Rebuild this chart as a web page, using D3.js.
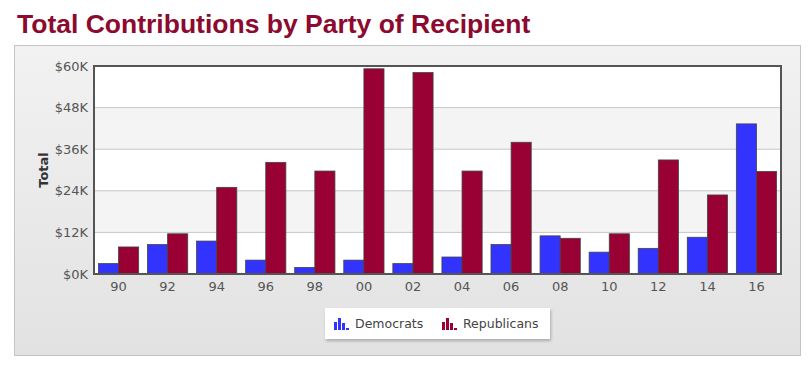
<!DOCTYPE html>
<html>
<head>
<meta charset="utf-8">
<script src="https://cdn.jsdelivr.net/npm/d3@7"></script>
<style>
  body { margin: 0; background: #fff; }
  svg { display: block; }
</style>
</head>
<body>
<div id="chart"></div>
<script>
const years = ['90', '92', '94', '96', '98', '00', '02', '04', '06', '08', '10', '12', '14', '16'];
const democrats = [3000, 8500, 9500, 4000, 1900, 4000, 3000, 4900, 8500, 11000, 6300, 7400, 10600, 43300];
const republicans = [7800, 11600, 25000, 32200, 29700, 59200, 58100, 29700, 38000, 10300, 11600, 32900, 22800, 29600];
const yTicks = [0, 12000, 24000, 36000, 48000, 60000];
const seriesNames = ['Democrats', 'Republicans'];
const colors = ['#3333ff', '#990033'];

const width = 809, height = 369;
const plot = {left: 94, right: 781, top: 66, bottom: 274};

const svg = d3.select('#chart').append('svg')
    .attr('width', width)
    .attr('height', height);

const defs = svg.append('defs');
const grad = defs.append('linearGradient')
    .attr('id', 'panelGrad')
    .attr('x1', 0).attr('y1', 0).attr('x2', 0).attr('y2', 1);
grad.append('stop').attr('offset', '0%').attr('stop-color', '#f2f2f2');
grad.append('stop').attr('offset', '100%').attr('stop-color', '#e2e2e2');

const shadow = defs.append('filter').attr('id', 'shadow')
    .attr('x', '-10%').attr('y', '-20%').attr('width', '120%').attr('height', '160%');
shadow.append('feDropShadow')
    .attr('dx', 1).attr('dy', 2).attr('stdDeviation', 1.5)
    .attr('flood-color', '#000').attr('flood-opacity', 0.25);

// title
svg.append('text')
    .attr('x', 17)
    .attr('y', 33)
    .attr('font-family', 'Liberation Sans, Arial, sans-serif')
    .attr('font-weight', 'bold')
    .attr('font-size', 26.5)
    .attr('fill', '#8c0a2f')
    .text('Total Contributions by Party of Recipient');

// panel
svg.append('rect')
    .attr('x', 14.5).attr('y', 45.5)
    .attr('width', 786).attr('height', 310)
    .attr('fill', 'url(#panelGrad)')
    .attr('stroke', '#c4c4c4');

const x = d3.scaleBand()
    .domain(years)
    .range([plot.left, plot.right])
    .paddingInner(0.18)
    .paddingOuter(0.09);
const xs = d3.scaleBand()
    .domain(seriesNames)
    .range([0, x.bandwidth()]);
const y = d3.scaleLinear()
    .domain([0, 60000])
    .range([plot.bottom, plot.top]);

// plot background with alternating bands
svg.append('g')
    .selectAll('rect')
    .data(d3.pairs(yTicks))
    .join('rect')
        .attr('x', plot.left)
        .attr('width', plot.right - plot.left)
        .attr('y', d => y(d[1]))
        .attr('height', d => y(d[0]) - y(d[1]))
        .attr('fill', (d, i) => i % 2 ? '#f4f4f4' : '#ffffff');

// grid lines
svg.append('g')
    .selectAll('line')
    .data(yTicks.slice(1, -1))
    .join('line')
        .attr('x1', plot.left).attr('x2', plot.right)
        .attr('y1', d => y(d)).attr('y2', d => y(d))
        .attr('stroke', '#c8c8c8')
        .attr('stroke-width', 1);

// bars
const data = years.map((yr, i) => ({year: yr, values: [democrats[i], republicans[i]]}));
svg.append('g')
    .selectAll('g')
    .data(data)
    .join('g')
        .attr('transform', d => `translate(${x(d.year)},0)`)
    .selectAll('rect')
    .data(d => d.values.map((v, j) => ({name: seriesNames[j], value: v, j})))
    .join('rect')
        .attr('x', d => xs(d.name))
        .attr('width', xs.bandwidth())
        .attr('y', d => y(d.value))
        .attr('height', d => y(0) - y(d.value))
        .attr('fill', d => colors[d.j])
        .attr('stroke', '#444')
        .attr('stroke-width', 0.8);

// frame
svg.append('rect')
    .attr('x', plot.left).attr('y', plot.top)
    .attr('width', plot.right - plot.left)
    .attr('height', plot.bottom - plot.top)
    .attr('fill', 'none')
    .attr('stroke', '#555')
    .attr('stroke-width', 2);

// y axis
const yAxis = svg.append('g')
    .attr('transform', `translate(${plot.left},0)`)
    .call(d3.axisLeft(y)
        .tickValues(yTicks)
        .tickSize(0)
        .tickPadding(6)
        .tickFormat(d => `$${d / 1000}K`));
yAxis.select('.domain').remove();
yAxis.selectAll('.tick text')
    .attr('font-family', 'DejaVu Sans, Verdana, sans-serif')
    .attr('font-size', 13)
    .attr('fill', '#555');

// x axis
const xAxis = svg.append('g')
    .attr('transform', `translate(0,${plot.bottom})`)
    .call(d3.axisBottom(x).tickSize(0).tickPadding(8));
xAxis.select('.domain').remove();
xAxis.selectAll('.tick text')
    .attr('font-family', 'DejaVu Sans, Verdana, sans-serif')
    .attr('font-size', 13)
    .attr('fill', '#555');

// y title
svg.append('text')
    .attr('transform', `translate(48,${(plot.top + plot.bottom) / 2}) rotate(-90)`)
    .attr('text-anchor', 'middle')
    .attr('font-family', 'DejaVu Sans, Verdana, sans-serif')
    .attr('font-weight', 'bold')
    .attr('font-size', 13)
    .attr('fill', '#333')
    .text('Total');

// legend
const legend = svg.append('g').attr('transform', 'translate(325,308)');
legend.append('rect')
    .attr('width', 225).attr('height', 31)
    .attr('fill', '#fff')
    .attr('filter', 'url(#shadow)');
const legendX = [9, 117];
const iconBars = [[0, 4], [4, 0], [8, 5], [12, 10]];
seriesNames.forEach((name, i) => {
    const item = legend.append('g').attr('transform', `translate(${legendX[i]},9)`);
    item.selectAll('rect')
        .data(iconBars)
        .join('rect')
            .attr('x', d => d[0])
            .attr('y', d => 1 + d[1])
            .attr('width', 3)
            .attr('height', d => 12 - d[1])
            .attr('fill', colors[i]);
    item.append('text')
        .attr('x', 21)
        .attr('y', 11)
        .attr('font-family', 'DejaVu Sans, Verdana, sans-serif')
        .attr('font-size', 12.5)
        .attr('fill', '#444')
        .text(name);
});
</script>
</body>
</html>
